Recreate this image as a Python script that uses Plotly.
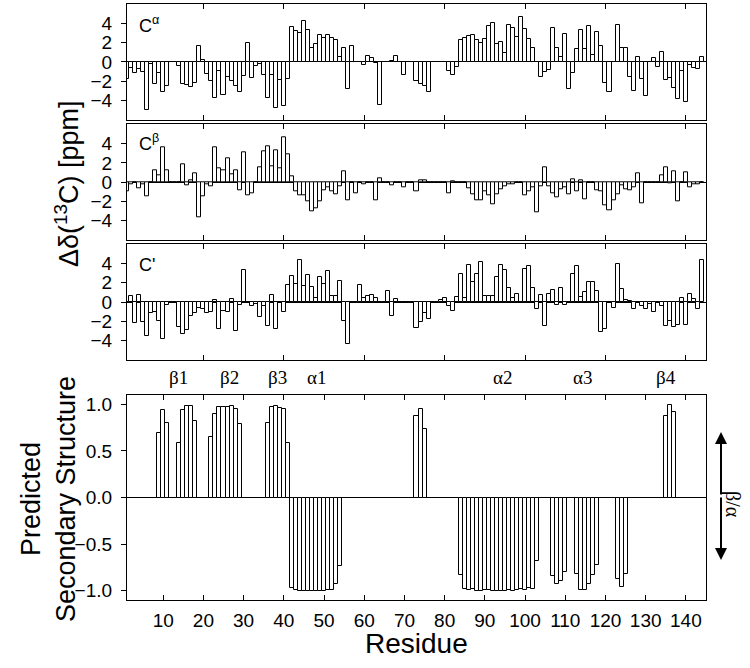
import plotly.graph_objects as go
from plotly.subplots import make_subplots

# residue numbers and per-residue data
residues = list(range(1, 145))

ca_shift = [
    -1.8, -0.6, -1.2, -0.7, -1.1, -5.0, -0.2, -2.3, -1.2, -3.1, -2.5, 0,
    0, -0.4, -2.3, -2.4, -2.6, -2.2, 1.6, 0.2, -1.3, -2.0, -3.7, -1.0,
    -3.4, -1.6, -2.0, -2.5, -3.1, -1.5, 2.0, -1.7, -0.4, -0.2, -1.4, -3.8,
    -1.4, -4.8, -1.9, -4.6, -1.8, 3.6, 3.2, 3.0, 4.2, 3.3, 1.4, 1.9,
    2.8, 2.5, 2.8, 2.5, 2.3, 0.5, 1.4, -2.8, 1.6, 0, 0, -0.3,
    0.6, 0.4, -0.1, -4.5, 0, 0, 0.05, 0.6, 0, -1.4, 0, 0,
    -2.0, -2.3, -2.5, -3.1, 0, 0, 0, -0.05, -1.0, -1.4, -0.5, 2.3,
    2.5, 2.7, 2.8, 2.3, 2.0, 2.4, 3.7, 4.0, 1.9, 2.1, 0.9, 3.8,
    3.5, 2.6, 4.7, 3.4, 2.4, 1.4, -0.05, -1.6, -1.1, -0.8, 3.5, 1.4,
    0.5, 2.9, -2.8, -1.2, 1.3, 3.3, 1.3, 3.7, 0.7, 3.1, 1.6, -2.2,
    -3.1, 0, 3.8, 1.4, 1.4, -1.6, -3.0, 0.5, -1.8, -3.5, 0, 0.4,
    -0.5, 1.0, -1.9, -1.7, -2.7, -3.9, -0.9, -4.2, -0.3, -0.6, -0.7, 0.5,
]

cb_shift = [
    -0.9, -0.2, 0, -0.6, -0.2, -1.5, 0, 1.2, 0.7, 3.6, 1.2, 0,
    0, 0, 1.8, -0.3, 0.2, 0.9, -3.6, -1.5, -0.2, -0.4, 3.6, 1.4,
    1.2, 2.5, 0.8, 1.2, -0.8, 3.1, -1.4, -1.2, 0, 1.5, 3.2, 3.7,
    1.6, 3.3, 1.4, 4.7, 2.9, 0.6, -0.9, -1.4, -1.4, -2.0, -3.0, -2.7,
    -2.0, -0.8, -0.5, -1.0, -1.3, -0.4, 1.1, -1.9, 0, -1.2, 0, -0.2,
    0, 0, -1.9, 0.4, 0, 0, -0.3, 0, 0, -0.5, 0, 0,
    -0.9, 0.2, 0.2, 0, 0, 0, 0, 0, -1.2, 0.1, 0, 0,
    0, -0.6, -1.3, -1.9, -1.9, -0.9, -1.4, -2.3, -1.3, -0.7, -0.4, -0.2,
    -0.2, 0, 0, -1.4, -1.0, -0.5, -3.1, -0.4, 1.5, -0.4, -1.2, -1.6,
    -0.7, -0.5, -1.3, 0.3, -1.0, 0.2, -1.8, 0, 0, -0.8, -1.0, -2.4,
    -2.9, -1.9, -1.3, -0.3, -0.7, -0.8, -0.5, 0.9, -2.2, 0, 0, 0,
    0, 0.7, 1.5, -0.1, 1.1, -2.0, 0, 1.0, -0.5, -0.2, -0.2, 0,
]

co_shift = [
    0, 0.6, -2.2, 0.7, -2.1, -3.5, -1.1, -1.0, -2.0, -3.8, -0.3, 0,
    0, -2.6, -3.3, -2.9, -1.4, -1.1, -0.6, -0.7, -1.1, -1.0, 0.2, -2.8,
    -0.9, -1.0, 0.3, -3.0, -0.3, 3.3, 0, -0.4, -0.2, -1.6, -0.4, -2.5,
    0.7, -2.8, 0, -1.0, 1.8, 2.7, 1.9, 4.3, 1.7, 2.8, 1.6, 0.4,
    2.6, 1.9, 3.2, 0.6, 0.6, 2.2, -2.0, -4.3, 0, 0, 1.8, 0.4,
    0.6, 0.7, 0.4, 0, 0, 1.1, -1.4, 0.3, 0, 0, 0, 0,
    -2.7, -2.1, -1.1, -1.8, 0, 0, 0.2, 0.4, -0.4, -0.9, 0.5, 2.9,
    0.4, 3.8, 2.1, 2.9, 4.1, 0.6, 0.6, 0.6, 2.6, 3.8, 3.3, 1.4,
    0.4, 0.8, 0, 3.4, 3.7, 1.5, -0.7, 0.7, -2.5, 0.85, 1.2, -0.35,
    1.4, -0.35, 0, 2.9, 3.7, 0.5, 1.0, 2.1, 2.1, 1.1, -3.1, -2.8,
    0, -0.6, 3.9, 1.3, 0.2, 0.1, -0.7, -0.1, -0.45, -0.7, -0.2, -1.0,
    0, -0.45, -2.5, -2.0, -2.6, -2.4, 0.4, -2.4, 0.85, 0.35, -0.7, 4.3,
]

ss_pred = [
    0, 0, 0, 0, 0, 0, 0, 0, 0.69, 0.94, 0.80, 0,
    0, 0.58, 0.94, 0.98, 0.98, 0.82, 0, 0, 0, 0.65, 0.90, 0.97,
    0.97, 0.97, 0.98, 0.95, 0.79, 0, 0, 0, 0, 0, 0, 0.80,
    0.97, 0.98, 0.96, 0.95, 0.59, -0.97, -0.99, -1.0, -1.0, -1.0, -1.0, -1.0,
    -1.0, -1.0, -0.99, -0.99, -0.93, -0.73, 0, 0, 0, 0, 0, 0,
    0, 0, 0, 0, 0, 0, 0, 0, 0, 0, 0, 0,
    0.87, 0.95, 0.74, 0, 0, 0, 0, 0, 0, 0, 0, -0.83,
    -0.98, -0.99, -0.98, -1.0, -1.0, -0.99, -0.99, -1.0, -1.0, -1.0, -1.0, -0.99,
    -1.0, -0.99, -0.98, -0.99, -0.97, -0.98, -0.68, 0, 0, 0, -0.84, -0.93,
    -0.90, -0.80, 0, 0, -0.82, -0.99, -0.99, -0.93, -0.83, -0.72, 0, 0,
    0, 0, -0.87, -0.96, -0.82, 0, 0, 0, 0, 0, 0, 0,
    0, 0, 0.87, 0.99, 0.92, 0, 0, 0, 0, 0, 0, 0,
]

panel_labels = ['C<sup>α</sup>', 'C<sup>β</sup>', "C'"]
ss_labels = ['β1', 'β2', 'β3', 'α1', 'α2', 'α3', 'β4']
ss_label_pos = [13.7, 26.6, 38.5, 48.2, 94.3, 114.2, 135.1]

SANS = 'Liberation Sans, Arial, sans-serif'
SERIF = 'Liberation Serif, Times New Roman, serif'

# plot area in pixels (750 x 668 page)
L, R, T, B = 127, 706, 4, 600


def px_x(x):
    return (x - L) / (R - L)


def px_y(y):
    return (B - y) / (B - T)


fig = make_subplots(rows=4, cols=1)

for row, vals in enumerate([ca_shift, cb_shift, co_shift, ss_pred], start=1):
    fig.add_trace(
        go.Bar(x=residues, y=vals, width=1,
               marker=dict(color='white', line=dict(color='black', width=1)),
               showlegend=False, hoverinfo='skip'),
        row=row, col=1
    )

domains = [
    [px_y(119.7), 1.0],
    [px_y(240), px_y(124.3)],
    [px_y(360), px_y(244)],
    [0.0, px_y(395)],
]

for row in range(1, 5):
    fig.update_yaxes(domain=domains[row - 1], row=row, col=1)
    fig.update_xaxes(
        range=[1, 145], showline=True, linecolor='black', linewidth=1.3,
        mirror='ticks', ticks='inside', ticklen=5, tickwidth=1.2, tickcolor='black',
        showgrid=False, zeroline=False,
        row=row, col=1
    )

for row in range(1, 4):
    fig.update_xaxes(tickvals=list(range(20, 141, 20)), showticklabels=False, row=row, col=1)
    fig.update_yaxes(
        range=[-6, 6], tickvals=[-4, -2, 0, 2, 4],
        row=row, col=1
    )

fig.update_xaxes(tickvals=list(range(10, 141, 10)), showticklabels=True,
                 tickfont=dict(family=SANS, size=19, color='black'),
                 ticklabelstandoff=3, row=4, col=1)
fig.update_yaxes(range=[-1.1, 1.1], tickvals=[-1.0, -0.5, 0.0, 0.5, 1.0],
                 tickformat='.1f', row=4, col=1)

fig.update_yaxes(
    showline=True, linecolor='black', linewidth=1.3, mirror=True,
    ticks='outside', ticklen=5, tickwidth=1.2, tickcolor='black',
    showgrid=False, zeroline=True, zerolinecolor='black', zerolinewidth=1,
    tickfont=dict(family=SANS, size=19, color='black'), ticklabelstandoff=5
)

annotations = []
# panel labels
for lab, yp in zip(panel_labels, [25, 143, 265]):
    annotations.append(dict(
        text=lab, xref='paper', yref='paper', x=px_x(137), y=px_y(yp),
        xanchor='left', yanchor='middle', showarrow=False,
        font=dict(family=SANS, size=18, color='black')
    ))

# secondary structure element labels
for lab, pos in zip(ss_labels, ss_label_pos):
    annotations.append(dict(
        text=lab, xref='x4', yref='paper', x=pos, y=px_y(378),
        xanchor='center', yanchor='middle', showarrow=False,
        font=dict(family=SERIF, size=19, color='black')
    ))

# axis titles
annotations.append(dict(
    text='Δδ(<sup>13</sup>C) [ppm]', xref='paper', yref='paper',
    x=px_x(67), y=px_y(184), textangle=-90, showarrow=False,
    xanchor='center', yanchor='middle',
    font=dict(family=SANS, size=27, color='black')
))
annotations.append(dict(
    text='Predicted<br>Secondary Structure', xref='paper', yref='paper',
    x=px_x(48), y=px_y(499), textangle=-90, showarrow=False,
    xanchor='center', yanchor='middle',
    font=dict(family=SANS, size=27, color='black')
))
annotations.append(dict(
    text='Residue', xref='paper', yref='paper',
    x=px_x(416), y=px_y(643), showarrow=False,
    xanchor='center', yanchor='middle',
    font=dict(family=SANS, size=28, color='black')
))

# beta/alpha double arrow
for tip, tail in [(432, 496), (560, 496)]:
    annotations.append(dict(
        text='', xref='paper', yref='paper', x=px_x(721), y=px_y(tip),
        ax=0, ay=tail - tip, showarrow=True, arrowhead=2, arrowsize=1.2,
        arrowwidth=2, arrowcolor='black'
    ))
annotations.append(dict(
    text='β/α', xref='paper', yref='paper', x=px_x(733), y=px_y(504),
    textangle=90, showarrow=False, xanchor='center', yanchor='middle',
    font=dict(family=SERIF, size=20, color='black')
))

fig.update_layout(
    width=750, height=668,
    margin=dict(l=L, r=750 - R, t=T, b=668 - B),
    plot_bgcolor='white', paper_bgcolor='white',
    bargap=0, showlegend=False,
    annotations=annotations,
    font=dict(family=SANS, color='black')
)

fig.write_html('out.html', config={'displayModeBar': False},
               post_script="document.body.style.margin='0';")
